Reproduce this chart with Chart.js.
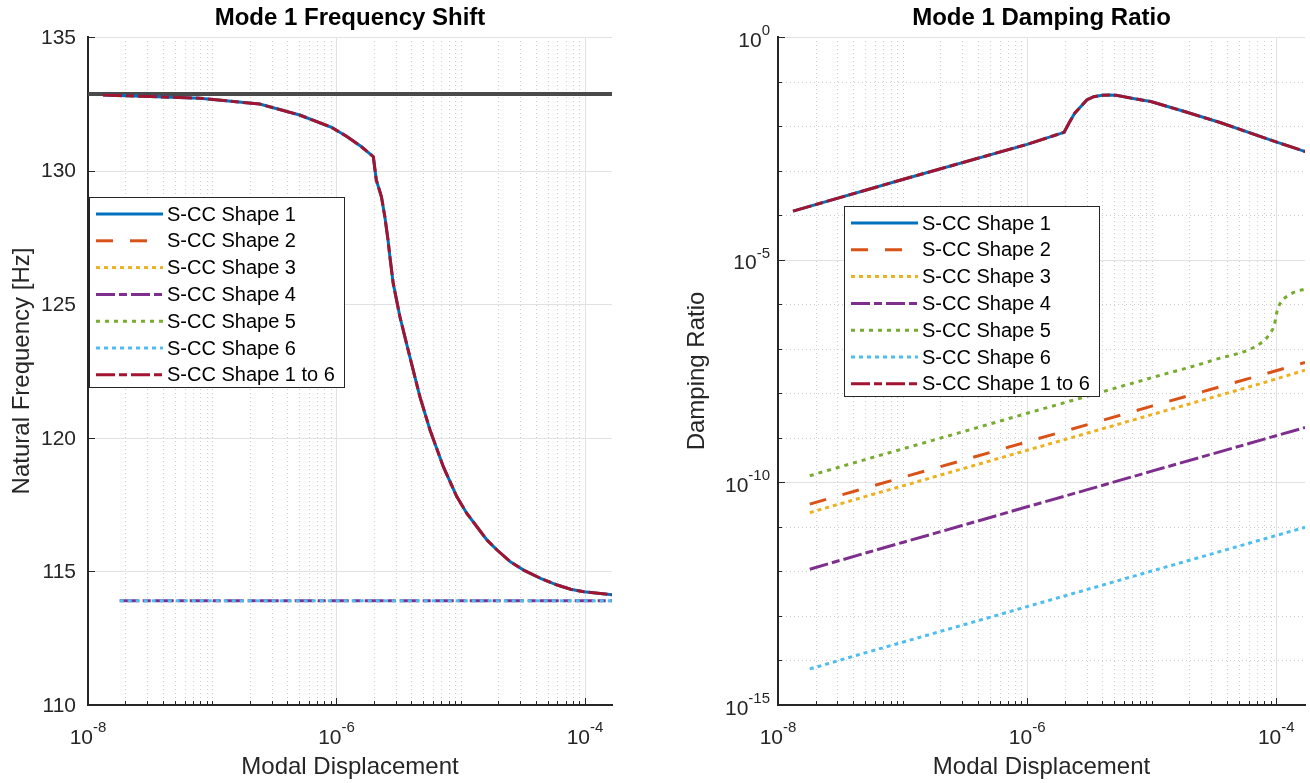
<!DOCTYPE html>
<html>
<head>
<meta charset="utf-8">
<script src="https://cdn.jsdelivr.net/npm/chart.js@4.4.1/dist/chart.umd.min.js"></script>
<style>
  body { margin: 0; background: #fff; }
  #wrap { position: relative; width: 1310px; height: 783px; }
  canvas { position: absolute; top: 0; }
</style>
</head>
<body>
<div id="wrap">
  <canvas id="freq" width="655" height="783" style="left:0"></canvas>
  <canvas id="damp" width="655" height="783" style="left:655px"></canvas>
</div>
<script>
const FONT = '"Liberation Sans", Arial, sans-serif';
const TXT = '#262626';

const seriesNames = ['S-CC Shape 1', 'S-CC Shape 2', 'S-CC Shape 3', 'S-CC Shape 4',
                     'S-CC Shape 5', 'S-CC Shape 6', 'S-CC Shape 1 to 6'];
const seriesColors = ['#0072BD', '#D95319', '#EDB120', '#7E2F8E', '#77AC30', '#4DBEEE', '#A2142F'];
const seriesDash = [[], [17, 17], [4, 4], [19, 4, 8, 4], [4, 5], [4, 4], [19, 4, 8, 4]];

// left panel: natural frequency [Hz]
const freqCurveX = [1.32e-8, 3.16e-8, 7.94e-8, 2.41e-7, 5.05e-7, 9.12e-7, 1.22e-6, 1.58e-6, 1.98e-6,
                    2.09e-6, 2.30e-6, 2.45e-6, 2.60e-6, 2.69e-6, 2.86e-6, 3.24e-6, 3.89e-6, 4.69e-6,
                    5.66e-6, 7.24e-6, 9.29e-6, 1.12e-5, 1.35e-5, 1.63e-5, 1.96e-5, 2.51e-5, 3.21e-5,
                    4.39e-5, 5.98e-5, 7.66e-5, 9.82e-5, 1.71e-4];
const freqCurveY = [132.83, 132.77, 132.71, 132.49, 132.08, 131.62, 131.27, 130.9, 130.52,
                    129.65, 129.02, 128.27, 127.4, 126.78, 125.78, 124.53, 123.04, 121.54,
                    120.29, 118.92, 117.80, 117.17, 116.67, 116.17, 115.80, 115.36, 115.05,
                    114.74, 114.49, 114.33, 114.24, 114.12];
const freqFlatX = [1.8e-8, 1.7e-4];
const freqFlatY = [113.9, 113.9];
const freqRefX = [1e-8, 1.7e-4];
const freqRefY = [132.87, 132.87];

// right panel: damping ratio
const dampCurveX = [1.32e-8, 1.0e-7, 1.0e-6, 1.98e-6, 2.18e-6, 2.41e-6, 3.01e-6, 3.42e-6, 4.0e-6,
                    4.57e-6, 5.19e-6, 7.08e-6, 9.84e-6, 1.86e-5, 3.54e-5, 9.82e-5, 1.74e-4];
const dampCurveY = [1.23e-4, 6.31e-4, 3.89e-3, 7.24e-3, 1.2e-2, 1.95e-2, 3.85e-2, 4.57e-2, 4.9e-2,
                    5.0e-2, 4.9e-2, 4.17e-2, 3.55e-2, 2.09e-2, 1.2e-2, 4.47e-3, 2.63e-3];
const dampLineX = [1.8e-8, 5e-8, 1e-7, 3e-7, 1e-6, 3e-6, 1e-5, 3e-5, 8e-5, 1.7e-4];
const dampShape2 = [3.24e-11, 7.41e-11, 1.29e-10, 3.09e-10, 8.13e-10, 1.95e-9, 5.13e-9, 1.23e-8, 2.69e-8, 4.9e-8];
const dampShape3 = [2.09e-11, 4.79e-11, 8.32e-11, 2.0e-10, 5.25e-10, 1.26e-9, 3.31e-9, 7.94e-9, 1.74e-8, 3.3e-8];
const dampShape4 = [1.12e-12, 2.57e-12, 4.47e-12, 1.07e-11, 2.82e-11, 6.76e-11, 1.78e-10, 4.27e-10, 9.33e-10, 1.7e-9];
const dampShape6 = [6.46e-15, 1.48e-14, 2.57e-14, 6.17e-14, 1.62e-13, 3.89e-13, 1.02e-12, 2.45e-12, 5.37e-12, 9.77e-12];
const dampShape5X = [1.8e-8, 5e-8, 1e-7, 3e-7, 1e-6, 3e-6, 1e-5, 3e-5, 7.87e-5, 8.95e-5, 9.64e-5,
                     1.02e-4, 1.10e-4, 1.27e-4, 1.50e-4, 1.71e-4];
const dampShape5 = [1.41e-10, 3.24e-10, 5.62e-10, 1.35e-9, 3.55e-9, 8.51e-9, 2.24e-8, 5.37e-8, 1.48e-7,
                    2.24e-7, 3.39e-7, 7.41e-7, 1.15e-6, 1.62e-6, 2.0e-6, 2.14e-6];

// tick labels
const xTickValues = [1e-8, 1e-6, 1e-4];
const xTickExp = ['-8', '-6', '-4'];
const freqTicks = [110, 115, 120, 125, 130, 135];
const dampTickValues = [1e-15, 1e-10, 1e-5, 1];
const dampTickExp = ['-15', '-10', '-5', '0'];

function pts(xs, ys) {
  return xs.map((x, i) => ({ x: x, y: ys[i] }));
}

function series(i, data, smooth) {
  return {
    label: seriesNames[i],
    data: data,
    borderColor: seriesColors[i],
    borderDash: seriesDash[i],
    borderWidth: 3,
    borderCapStyle: 'butt',
    pointRadius: 0,
    fill: false,
    tension: 0,
    cubicInterpolationMode: smooth ? 'monotone' : 'default',
    order: 10 - i
  };
}

// all k*10^e positions inside [min, max]
function logSteps(min, max) {
  const out = [];
  for (let e = Math.floor(Math.log10(min)); e <= Math.ceil(Math.log10(max)); e++) {
    for (let k = 1; k < 10; k++) {
      const v = k * Math.pow(10, e);
      if (v >= min * 0.999 && v <= max * 1.001) out.push({ v: v, k: k, e: e });
    }
  }
  return out;
}

function drawPow(ctx, exp, x, y, align) {
  ctx.font = '21px ' + FONT;
  const wb = ctx.measureText('10').width;
  ctx.font = '15px ' + FONT;
  const we = ctx.measureText(exp).width;
  const x0 = align === 'center' ? x - (wb + we) / 2 : x - wb - we;
  ctx.textAlign = 'left';
  ctx.textBaseline = 'middle';
  ctx.font = '21px ' + FONT;
  ctx.fillText('10', x0, y);
  ctx.font = '15px ' + FONT;
  ctx.fillText(exp, x0 + wb, y - 10);
}

const matlabAxes = {
  id: 'matlab',
  beforeDraw(chart, args, o) {
    const { ctx, chartArea: a } = chart;
    const xs = chart.scales.x, ys = chart.scales.y;
    ctx.save();
    ctx.lineWidth = 1;
    // minor dotted grid
    ctx.strokeStyle = '#cdcdcd';
    ctx.setLineDash([1, 3]);
    logSteps(xs.min, xs.max).forEach(g => {
      if (g.k === 1 && g.e % 2 === 0) return;
      const px = Math.round(xs.getPixelForValue(g.v)) + 0.5;
      ctx.beginPath(); ctx.moveTo(px, a.top); ctx.lineTo(px, a.bottom); ctx.stroke();
    });
    if (o.yLog) {
      logSteps(ys.min, ys.max).forEach(g => {
        if (g.k !== 1 || g.e % 5 === 0) return;
        const py = Math.round(ys.getPixelForValue(g.v)) + 0.5;
        ctx.beginPath(); ctx.moveTo(a.left, py); ctx.lineTo(a.right, py); ctx.stroke();
      });
    }
    // major solid grid
    ctx.setLineDash([]);
    ctx.strokeStyle = '#e2e2e2';
    xTickValues.forEach(v => {
      const px = Math.round(xs.getPixelForValue(v)) + 0.5;
      ctx.beginPath(); ctx.moveTo(px, a.top); ctx.lineTo(px, a.bottom); ctx.stroke();
    });
    const yMajor = o.yLog ? dampTickValues : freqTicks;
    yMajor.forEach(v => {
      const py = Math.round(ys.getPixelForValue(v)) + 0.5;
      ctx.beginPath(); ctx.moveTo(a.left, py); ctx.lineTo(a.right, py); ctx.stroke();
    });
    ctx.restore();
  },
  beforeDatasetsDraw(chart, args, o) {
    const { ctx, chartArea: a } = chart;
    const xs = chart.scales.x, ys = chart.scales.y;
    ctx.save();
    ctx.strokeStyle = TXT;
    ctx.lineWidth = 1;
    // inward tick marks
    logSteps(xs.min, xs.max).forEach(g => {
      const px = Math.round(xs.getPixelForValue(g.v)) + 0.5;
      const len = (g.k === 1 && g.e % 2 === 0) ? 7 : 4;
      ctx.beginPath(); ctx.moveTo(px, a.bottom); ctx.lineTo(px, a.bottom - len); ctx.stroke();
    });
    if (o.yLog) {
      logSteps(ys.min, ys.max).forEach(g => {
        if (g.k !== 1) return;
        const py = Math.round(ys.getPixelForValue(g.v)) + 0.5;
        const len = g.e % 5 === 0 ? 7 : 4;
        ctx.beginPath(); ctx.moveTo(a.left, py); ctx.lineTo(a.left + len, py); ctx.stroke();
      });
    } else {
      freqTicks.forEach(v => {
        const py = Math.round(ys.getPixelForValue(v)) + 0.5;
        ctx.beginPath(); ctx.moveTo(a.left, py); ctx.lineTo(a.left + 7, py); ctx.stroke();
      });
    }
    ctx.restore();
  },
  afterDatasetsDraw(chart, args, o) {
    const { ctx, chartArea: a } = chart;
    const L = a.left + o.legendDx, T = o.legendTop, W = 256, H = 191;
    ctx.save();
    ctx.fillStyle = '#fff';
    ctx.fillRect(L, T, W, H);
    ctx.strokeStyle = TXT;
    ctx.lineWidth = 1;
    ctx.strokeRect(L + 0.5, T + 0.5, W - 1, H - 1);
    seriesNames.forEach((name, i) => {
      const cy = T + 17 + i * 26.8;
      ctx.beginPath();
      ctx.setLineDash(seriesDash[i]);
      ctx.strokeStyle = seriesColors[i];
      ctx.lineWidth = 3;
      ctx.moveTo(L + 7, cy);
      ctx.lineTo(L + 74, cy);
      ctx.stroke();
      ctx.setLineDash([]);
      ctx.fillStyle = '#000';
      ctx.font = '20px ' + FONT;
      ctx.textAlign = 'left';
      ctx.textBaseline = 'middle';
      ctx.fillText(name, L + 78, cy + 1);
    });
    ctx.restore();
  },
  afterDraw(chart, args, o) {
    const { ctx, chartArea: a } = chart;
    const xs = chart.scales.x, ys = chart.scales.y;
    ctx.save();
    ctx.fillStyle = TXT;
    xTickValues.forEach((v, i) => {
      drawPow(ctx, xTickExp[i], xs.getPixelForValue(v), a.bottom + 33, 'center');
    });
    if (o.yLog) {
      dampTickValues.forEach((v, i) => {
        drawPow(ctx, dampTickExp[i], a.left - 8, ys.getPixelForValue(v) + 4, 'right');
      });
    } else {
      ctx.font = '21px ' + FONT;
      ctx.textAlign = 'right';
      ctx.textBaseline = 'middle';
      freqTicks.forEach(v => {
        ctx.fillText(String(v), a.left - 12, ys.getPixelForValue(v) + 1);
      });
    }
    ctx.restore();
  }
};

function makeOptions(cfg) {
  return {
    responsive: false,
    animation: false,
    events: [],
    layout: { padding: { left: 0, right: cfg.padRight, top: 0, bottom: 0 } },
    plugins: {
      legend: { display: false },
      tooltip: { enabled: false },
      title: {
        display: true, text: cfg.title, fullSize: false, color: '#000',
        font: { family: FONT, size: 24, weight: 'bold' },
        padding: { top: 4, bottom: 4.2 }
      },
      matlab: cfg.matlab
    },
    scales: {
      x: {
        type: 'logarithmic', min: 1e-8, max: cfg.xMax, bounds: 'data',
        grid: { display: false },
        border: { color: TXT, width: 2 },
        ticks: { display: false },
        title: { display: true, text: 'Modal Displacement', color: TXT,
                 font: { family: FONT, size: 24 }, padding: { top: 0, bottom: 1 } },
        afterFit: s => { s.height = 78; }
      },
      y: {
        type: cfg.yType, min: cfg.yMin, max: cfg.yMax, bounds: 'data',
        grid: { display: false },
        border: { color: TXT, width: 2 },
        ticks: { display: false },
        title: { display: true, text: cfg.yTitle, color: TXT,
                 font: { family: FONT, size: 24 }, padding: { top: cfg.yTitlePad, bottom: 0 } },
        afterFit: s => { s.width = cfg.yWidth; }
      }
    }
  };
}

new Chart(document.getElementById('freq'), {
  type: 'line',
  data: {
    datasets: [
      series(0, pts(freqCurveX, freqCurveY), false),
      series(1, [], false),
      series(2, [], false),
      series(3, pts(freqFlatX, freqFlatY), false),
      series(4, [], false),
      series(5, pts(freqFlatX, freqFlatY), false),
      series(6, pts(freqCurveX, freqCurveY), false),
      {
        label: 'reference', data: pts(freqRefX, freqRefY), borderColor: '#4a4a4a',
        borderWidth: 4, pointRadius: 0, fill: false, tension: 0, order: 20
      }
    ]
  },
  options: makeOptions({
    title: 'Mode 1 Frequency Shift', padRight: 43, xMax: 1.65e-4,
    yType: 'linear', yMin: 110, yMax: 135, yTitle: 'Natural Frequency [Hz]',
    yTitlePad: 8, yWidth: 88,
    matlab: { yLog: false, legendDx: 1, legendTop: 197 }
  }),
  plugins: [matlabAxes]
});

new Chart(document.getElementById('damp'), {
  type: 'line',
  data: {
    datasets: [
      series(0, pts(dampCurveX, dampCurveY), false),
      series(1, pts(dampLineX, dampShape2), false),
      series(2, pts(dampLineX, dampShape3), false),
      series(3, pts(dampLineX, dampShape4), false),
      series(4, pts(dampShape5X, dampShape5), true),
      series(5, pts(dampLineX, dampShape6), false),
      series(6, pts(dampCurveX, dampCurveY), false)
    ]
  },
  options: makeOptions({
    title: 'Mode 1 Damping Ratio', padRight: 5, xMax: 1.7e-4,
    yType: 'logarithmic', yMin: 1e-15, yMax: 1, yTitle: 'Damping Ratio',
    yTitlePad: 28, yWidth: 123,
    matlab: { yLog: true, legendDx: 66, legendTop: 206 }
  }),
  plugins: [matlabAxes]
});
</script>
</body>
</html>
